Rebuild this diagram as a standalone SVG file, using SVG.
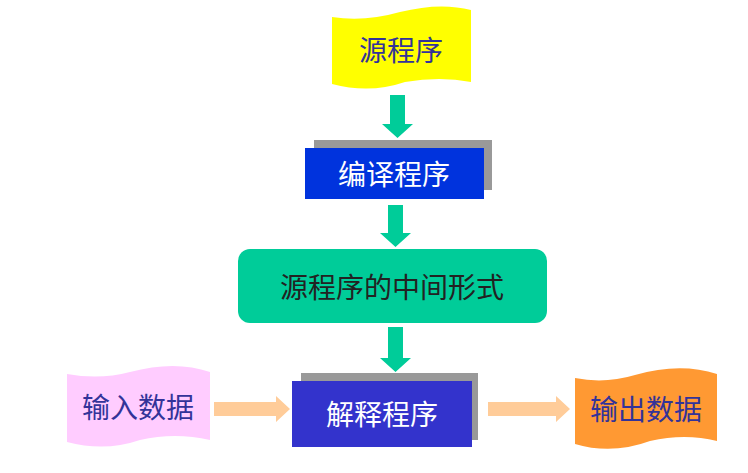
<svg xmlns="http://www.w3.org/2000/svg" width="748" height="473" viewBox="0 0 748 473">
<style>
text{font-family:"Noto Sans CJK SC","Liberation Sans",sans-serif;text-anchor:middle;dominant-baseline:central}
.d{fill:#333399;font-size:28px}
.w{fill:#fff;font-size:28px}
.g{fill:#00CC99}
.p{fill:#FFCC99}
.sh{fill:#999}
</style>
<rect width="748" height="473" fill="#fff"/>
<g id="connectors">
<polygon class="g" points="390,95 405,95 405,124 413,124 397.5,138 382,124 390,124"/>
<polygon class="g" points="388,205 403,205 403,233 411,233 395.5,247 380,233 388,233"/>
<polygon class="g" points="388,327 403,327 403,358 411,358 395.5,372 380,358 388,358"/>
<polygon class="p" points="214,402 276,402 276,396 290,409 276,422 276,416 214,416"/>
<polygon class="p" points="488,402 556,402 556,396 570,409 556,422 556,416 488,416"/>
</g>
<g id="src">
<path d="M332,17 Q365,22 400,12 Q440,2 471,10 L471,82 Q440,76 405,82 Q370,94 332,84 Z" fill="#FFFF00"/>
<text class="d" x="401" y="49">源程序</text>
</g>
<g id="compiler">
<rect class="sh" x="314" y="140" width="178" height="50"/>
<rect x="305" y="148" width="179" height="51" fill="#0033DD"/>
<text class="w" x="394" y="173">编译程序</text>
</g>
<g id="mid">
<rect class="g" x="238" y="249" width="309" height="74" rx="12"/>
<text x="392" y="286" style="font-size:28px;fill:#222">源程序的中间形式</text>
</g>
<g id="interp">
<rect class="sh" x="301" y="373" width="177" height="67"/>
<rect x="292" y="381" width="180" height="66" fill="#3333CC"/>
<text class="w" x="382" y="413">解释程序</text>
</g>
<g id="input">
<path d="M67,374 Q100,380 130,372 Q175,360 210,372 L210,440 Q175,432 140,440 Q105,452 67,442 Z" fill="#FFCCFF"/>
<text class="d" x="138" y="406">输入数据</text>
</g>
<g id="output">
<path d="M575,378 Q605,384 635,375 Q680,362 717,374 L717,441 Q685,433 650,441 Q612,455 575,444 Z" fill="#FF9933"/>
<text class="d" x="646" y="408">输出数据</text>
</g>
</svg>
